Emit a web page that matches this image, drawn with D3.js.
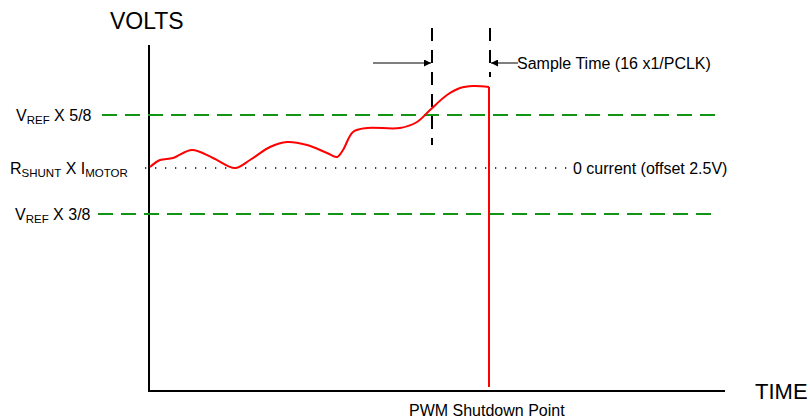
<!DOCTYPE html>
<html>
<head>
<meta charset="utf-8">
<script src="https://cdn.jsdelivr.net/npm/d3@7"></script>
<style>
  body { margin: 0; background: #fff; }
  text { font-family: "Liberation Sans", Arial, sans-serif; fill: #000; }
</style>
</head>
<body>
<div id="chart"></div>
<script>
// values, in plot units (time 0..576, volts 0..346)
var curveTime = [1, 11, 24, 43, 64, 86, 101, 121, 138, 158, 178, 188, 194, 204, 218, 251, 268, 281, 298, 311, 324, 340];
var curveVolts = [224, 231, 233, 241, 233, 223, 231, 244, 249, 246, 238, 234, 241, 259, 263, 263, 269, 281, 296, 303, 305, 304];
var shutdownTime = 340;
var shutdownVolts = [304, 4];
var refLevels = [276, 177];          // VREF x 5/8, VREF x 3/8
var refEnds = [[-47, 568], [-51, 562]];
var zeroLevel = 223;
var sampleStart = 283;
var sampleEnd = 341;

var w = 810;
var h = 419;

var svg = d3.select("#chart")
  .append("svg")
  .attr("width", w)
  .attr("height", h);

var x = d3.scaleLinear()
  .domain([0, 576])
  .range([149, 725]);

var y = d3.scaleLinear()
  .domain([0, 346])
  .range([391, 45]);

// axes
svg.append("line")
  .attr("x1", x(0)).attr("x2", x(0))
  .attr("y1", y(346)).attr("y2", y(0))
  .attr("stroke", "#000").attr("stroke-width", 2);

svg.append("line")
  .attr("x1", x(0) - 1).attr("x2", x(576))
  .attr("y1", y(0)).attr("y2", y(0))
  .attr("stroke", "#000").attr("stroke-width", 2);

svg.append("text").attr("x", 110).attr("y", 29)
  .style("font-size", "23px").text("VOLTS");
svg.append("text").attr("x", 755).attr("y", 399)
  .style("font-size", "22px").text("TIME");

// green reference lines
svg.selectAll(".ref")
  .data(refLevels)
  .enter().append("line")
  .attr("class", "ref")
  .attr("x1", function(d, i) { return x(refEnds[i][0]); })
  .attr("x2", function(d, i) { return x(refEnds[i][1]); })
  .attr("y1", function(d) { return y(d); })
  .attr("y2", function(d) { return y(d); })
  .attr("stroke", "#149414")
  .attr("stroke-width", 2)
  .attr("stroke-dasharray", "15,8");

// zero current dotted line
svg.append("line")
  .attr("x1", x(-4)).attr("x2", x(418))
  .attr("y1", y(zeroLevel)).attr("y2", y(zeroLevel))
  .attr("stroke", "#000")
  .attr("stroke-width", 1.3)
  .attr("stroke-dasharray", "1.3,8.7");

// sample window markers
var markers = [[sampleStart, 363, 246], [sampleEnd, 363, 314]];
markers.forEach(function(m) {
  svg.append("line")
    .attr("x1", x(m[0])).attr("x2", x(m[0]))
    .attr("y1", y(m[1])).attr("y2", y(m[2]))
    .attr("stroke", "#000")
    .attr("stroke-width", 2)
    .attr("stroke-dasharray", "13,9");
});

svg.append("defs").append("marker")
  .attr("id", "arrow")
  .attr("viewBox", "0 0 10 10")
  .attr("refX", 10).attr("refY", 5)
  .attr("markerWidth", 7).attr("markerHeight", 7)
  .attr("orient", "auto")
  .append("path")
  .attr("d", "M0,0L10,5L0,10z")
  .attr("fill", "#000");

var arrowY = y(328);
svg.append("line")
  .attr("x1", x(224)).attr("x2", x(sampleStart) - 1)
  .attr("y1", arrowY).attr("y2", arrowY)
  .attr("stroke", "#000").attr("stroke-width", 1)
  .attr("marker-end", "url(#arrow)");
svg.append("line")
  .attr("x1", x(369)).attr("x2", x(sampleEnd) + 1)
  .attr("y1", arrowY).attr("y2", arrowY)
  .attr("stroke", "#000").attr("stroke-width", 1)
  .attr("marker-end", "url(#arrow)");

// red signal
var signal = d3.line()
  .x(function(d, i) { return x(curveTime[i]); })
  .y(function(d) { return y(d); })
  .curve(d3.curveCatmullRom);

svg.append("path")
  .attr("d", signal(curveVolts))
  .attr("fill", "none")
  .attr("stroke", "#f00")
  .attr("stroke-width", 2);

svg.append("line")
  .attr("x1", x(shutdownTime)).attr("x2", x(shutdownTime))
  .attr("y1", y(shutdownVolts[0])).attr("y2", y(shutdownVolts[1]))
  .attr("stroke", "#f00").attr("stroke-width", 2);

// labels
function subLabel(xp, yp, parts) {
  var t = svg.append("text").attr("x", xp).attr("y", yp).style("font-size", "16px");
  parts.forEach(function(p) {
    t.append("tspan")
      .style("font-size", p[1] ? "11.5px" : "16px")
      .attr("dy", p[1] ? 3 : (p[2] ? -3 : 0))
      .text(p[0]);
  });
}
subLabel(16, y(refLevels[0]) + 6, [["V"], ["REF", true], [" X 5/8", false, true]]);
subLabel(10, y(zeroLevel) + 6, [["R"], ["SHUNT", true], [" X I", false, true], ["MOTOR", true]]);
subLabel(15, y(refLevels[1]) + 6, [["V"], ["REF", true], [" X 3/8", false, true]]);

svg.append("text").attr("x", 573).attr("y", y(zeroLevel) + 6)
  .style("font-size", "16px").text("0 current (offset 2.5V)");
svg.append("text").attr("x", 517).attr("y", arrowY + 6)
  .style("font-size", "16px").text("Sample Time (16 x1/PCLK)");
svg.append("text").attr("x", 409).attr("y", 416)
  .style("font-size", "16px").text("PWM Shutdown Point");
</script>
</body>
</html>
